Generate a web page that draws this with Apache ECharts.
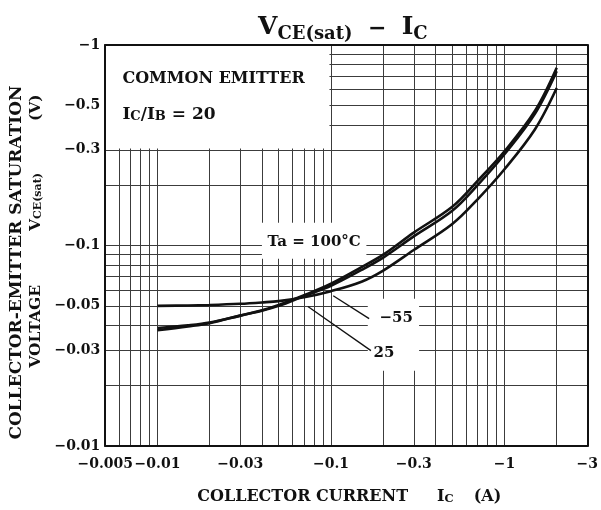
<!DOCTYPE html>
<html><head><meta charset="utf-8">
<script src="https://cdn.jsdelivr.net/npm/echarts@6/dist/echarts.min.js"></script>
<style>html,body{margin:0;padding:0;background:#fff}#c{width:601px;height:510px}</style>
</head><body><div id="c"></div>
<script>
// Collector current magnitude |I_C| (A) and V_CE(sat) magnitude (V); PNP, so labels carry a minus sign
const collectorCurrent = [0.01, 0.015, 0.02, 0.03, 0.04, 0.05, 0.07, 0.1, 0.15, 0.2, 0.3, 0.5, 0.7, 1, 1.5, 2];
const vce100 = [0.0378, 0.0395, 0.041, 0.0447, 0.0475, 0.0505, 0.0565, 0.0645, 0.078, 0.09, 0.116, 0.156, 0.21, 0.295, 0.47, 0.77];
const vce25 = [0.0388, 0.040, 0.0413, 0.0447, 0.0473, 0.050, 0.056, 0.063, 0.0755, 0.087, 0.111, 0.149, 0.2, 0.285, 0.455, 0.74];
const vceMinus55 = [0.050, 0.0502, 0.0505, 0.0512, 0.052, 0.0528, 0.0552, 0.0592, 0.066, 0.075, 0.095, 0.128, 0.17, 0.24, 0.38, 0.61];

const xTickLabels = [0.005, 0.01, 0.03, 0.1, 0.3, 1, 3];
const yTickLabels = [0.01, 0.03, 0.05, 0.1, 0.3, 0.5, 1];
const xGridValues = [0.005, 0.006, 0.007, 0.008, 0.009, 0.01, 0.02, 0.03, 0.04, 0.05, 0.06, 0.07, 0.08, 0.09,
  0.1, 0.2, 0.3, 0.4, 0.5, 0.6, 0.7, 0.8, 0.9, 1, 2, 3];
const yGridValues = [0.01, 0.02, 0.03, 0.04, 0.05, 0.06, 0.07, 0.08, 0.09,
  0.1, 0.2, 0.3, 0.4, 0.5, 0.6, 0.7, 0.8, 0.9, 1];
const curveNames = ['Ta = 100°C', '25', '−55'];

const FONT = 'DejaVu Serif';
const INK = '#111';
const neg = v => '−' + String(+Number(v).toPrecision(3));
const pairs = ys => collectorCurrent.map((x, i) => [x, ys[i]]);
const subOf = size => ({ fontFamily: FONT, fontSize: size, fontWeight: 'bold', color: INK, verticalAlign: 'bottom', lineHeight: size + 1 });
const txt = size => ({ fontFamily: FONT, fontSize: size, fontWeight: 'bold', color: INK, lineHeight: size + 3, verticalAlign: 'bottom' });

const chart = echarts.init(document.getElementById('c'), null, { renderer: 'canvas' });
const curveStyle = { color: INK, width: 2.6 };

chart.setOption({
  animation: false,
  backgroundColor: '#fff',
  title: {
    text: '{v|V}{s|CE(sat)}{m|  −  }{v|I}{s|C}',
    left: 253, top: 7,
    textStyle: {
      rich: {
        v: { fontFamily: FONT, fontSize: 25, color: INK, lineHeight: 28, verticalAlign: 'bottom' },
        s: { fontFamily: FONT, fontSize: 18, color: INK, lineHeight: 20, verticalAlign: 'bottom', padding: [0, 0, -3, 0] },
        m: { fontFamily: FONT, fontSize: 22, color: INK, fontWeight: 'bold', lineHeight: 28, verticalAlign: 'bottom' }
      }
    }
  },
  grid: { left: 104, right: 12, top: 45, bottom: 64, containLabel: false },
  xAxis: [
    {
      type: 'log', logBase: 10, min: 0.005, max: 3, position: 'bottom', z: 0,
      axisLine: { show: true, lineStyle: { color: INK, width: 2 } },
      axisTick: { show: false, customValues: xGridValues },
      splitLine: { show: true, lineStyle: { color: '#3c3c3c', width: 1 } },
      axisLabel: { customValues: xTickLabels, formatter: neg, margin: 11,
        fontFamily: FONT, fontSize: 14, fontWeight: 'bold', color: INK },
      name: '{t|COLLECTOR CURRENT}{g1|}{t|I}{s|C}{g2|}{t|(A)}',
      nameLocation: 'middle', nameGap: 40,
      nameTextStyle: { padding: [0, 0, 0, 6], rich: {
        t: txt(16), s: subOf(11.5), g1: { width: 29 }, g2: { width: 20 } } }
    },
    {
      type: 'log', logBase: 10, min: 0.005, max: 3, position: 'top', z: 10,
      axisLine: { show: true, lineStyle: { color: INK, width: 2 } },
      axisTick: { show: false }, axisLabel: { show: false }, splitLine: { show: false }
    }
  ],
  yAxis: [
    {
      type: 'log', logBase: 10, min: 0.01, max: 1, position: 'left', z: 10,
      axisLine: { show: true, lineStyle: { color: INK, width: 2 } },
      axisTick: { show: false }, splitLine: { show: false },
      axisLabel: { customValues: yTickLabels, formatter: neg, margin: 5,
        fontFamily: FONT, fontSize: 14, fontWeight: 'bold', color: INK },
      name: '{t|COLLECTOR-EMITTER SATURATION}\n{g0|}{u|VOLTAGE}{g1|}{u|V}{s|CE(sat)}{g2|}{u|(V)}',
      nameLocation: 'middle', nameRotate: 90, nameGap: 56,
      nameTextStyle: { align: 'center', padding: [0, 34, 0, 0], rich: {
        t: txt(17), u: txt(15.5), s: subOf(11),
        g0: { width: 63 }, g1: { width: 54 }, g2: { width: 52 } } }
    },
    {
      type: 'log', logBase: 10, min: 0.01, max: 1, position: 'right', z: 0,
      axisLine: { show: true, lineStyle: { color: INK, width: 2 } },
      axisTick: { show: false, customValues: yGridValues },
      axisLabel: { show: false },
      splitLine: { show: true, lineStyle: { color: '#3c3c3c', width: 1 } }
    }
  ],
  series: [
    {
      name: curveNames[0], type: 'line', xAxisIndex: 0, yAxisIndex: 0,
      data: pairs(vce100), smooth: 0.35, showSymbol: false, lineStyle: curveStyle, z: 3,
      markArea: {
        silent: true, itemStyle: { color: '#fff', borderWidth: 0 },
        data: [
          [{ xAxis: 0.005, yAxis: 0.305 }, { xAxis: 0.098, yAxis: 1 }],
          [{ xAxis: 0.040, yAxis: 0.086 }, { xAxis: 0.16, yAxis: 0.13 }],
          [{ xAxis: 0.163, yAxis: 0.0237 }, { xAxis: 0.322, yAxis: 0.0543 }]
        ]
      },
      markPoint: {
        silent: true, symbol: 'circle', symbolSize: 0,
        label: { show: true, formatter: '{b}', fontFamily: FONT, fontSize: 16, fontWeight: 'bold', color: INK,
          rich: { t: txt(17), s: subOf(13) } },
        data: [
          { name: 'COMMON EMITTER', coord: [0.00628, 0.676], label: { position: 'right', distance: 0 } },
          { name: '{t|I}{s|C}{t|/I}{s|B}{t| = 20}', coord: [0.00628, 0.457], label: { position: 'right', distance: 0 } },
          { name: curveNames[0], coord: [0.08, 0.104], label: { position: 'inside', fontSize: 15 } },
          { name: curveNames[2], coord: [0.2375, 0.0432], label: { position: 'inside', fontSize: 15 } },
          { name: curveNames[1], coord: [0.202, 0.0292], label: { position: 'inside', fontSize: 15 } }
        ]
      },
      markLine: {
        silent: true, symbol: ['none', 'none'],
        lineStyle: { color: INK, width: 1.3, type: 'solid' },
        label: { show: false },
        data: [
          [{ coord: [0.166, 0.0432] }, { coord: [0.103, 0.0562] }],
          [{ coord: [0.17, 0.0299] }, { coord: [0.0736, 0.0496] }]
        ]
      }
    },
    {
      name: curveNames[1], type: 'line', xAxisIndex: 0, yAxisIndex: 0,
      data: pairs(vce25), smooth: 0.35, showSymbol: false, lineStyle: curveStyle, z: 3
    },
    {
      name: curveNames[2], type: 'line', xAxisIndex: 0, yAxisIndex: 0,
      data: pairs(vceMinus55), smooth: 0.35, showSymbol: false, lineStyle: curveStyle, z: 3
    }
  ]
});
</script></body></html>
